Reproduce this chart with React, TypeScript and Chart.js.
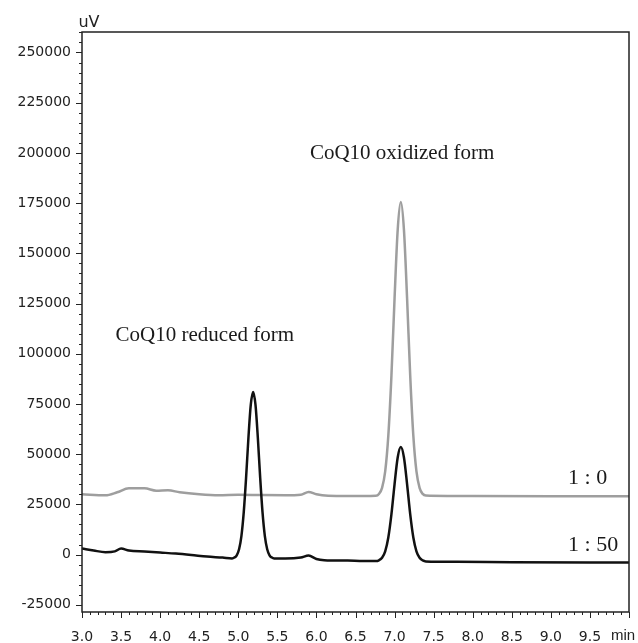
import { useEffect, useRef } from "react";
import { Chart, registerables } from "chart.js";

Chart.register(...registerables);

// Chromatogram 1 : 0 (grey trace)
const TIME_1_0 = [
  3.0, 3.3, 3.45, 3.6, 3.8, 3.95, 4.1, 4.25, 4.5, 4.75, 5.0, 5.3, 5.6, 5.8, 5.9, 6.0, 6.15, 6.4, 6.6, 6.76,
  6.8, 6.84, 6.88, 6.92, 6.96, 7.0, 7.04, 7.08, 7.12, 7.16, 7.2, 7.24, 7.28, 7.32, 7.36, 7.4, 7.7, 8.0, 9.0, 10.0,
];
const SIGNAL_1_0 = [
  30000, 29500, 31000, 33000, 33000, 31800, 32000, 31000, 30000, 29500, 29800, 29600, 29500, 29800, 31200, 30000,
  29300, 29200, 29200, 29300, 30200, 33200, 41400, 59200, 89200, 127700, 161700, 175500, 161700, 127700, 89200,
  59200, 41400, 33200, 30200, 29400, 29200, 29100, 29000, 29000,
];

// Chromatogram 1 : 50 (black trace)
const TIME_1_50 = [
  3.0, 3.15, 3.3, 3.42, 3.5, 3.6, 3.8, 4.0, 4.2, 4.4, 4.6, 4.8, 4.92, 4.95, 4.98, 5.01, 5.04, 5.07, 5.1, 5.13,
  5.16, 5.19, 5.22, 5.25, 5.28, 5.31, 5.34, 5.37, 5.4, 5.43, 5.46, 5.6, 5.8, 5.9, 6.0, 6.1, 6.4, 6.6, 6.76, 6.8,
  6.84, 6.88, 6.92, 6.96, 7.0, 7.04, 7.08, 7.12, 7.16, 7.2, 7.24, 7.28, 7.32, 7.36, 7.4, 7.8, 8.5, 9.5, 10.0,
];
const SIGNAL_1_50 = [
  3000, 2000, 1200, 1600, 3000, 2000, 1500, 1000, 500, -200, -1000, -1500, -1900, -1500, -350, 2650, 9200, 21100,
  38400, 58300, 74600, 81000, 74600, 58300, 38400, 21100, 9200, 2650, -350, -1500, -1900, -2000, -1500, -500,
  -2200, -2800, -3000, -3200, -3200, -2850, -1600, 1600, 8500, 20100, 35100, 48300, 53500, 48300, 35100, 20100,
  8500, 1600, -1600, -2900, -3400, -3600, -3800, -3900, -3900,
];

const X_TICKS = [3.0, 3.5, 4.0, 4.5, 5.0, 5.5, 6.0, 6.5, 7.0, 7.5, 8.0, 8.5, 9.0, 9.5];
const X_UNIT = "min";
const Y_TICKS = [-25000, 0, 25000, 50000, 75000, 100000, 125000, 150000, 175000, 200000, 225000, 250000];
const Y_UNIT = "uV";

const LABEL_TEXTS = ["CoQ10 oxidized form", "CoQ10 reduced form", "1 : 0", "1 : 50"];
const LABEL_X = [5.917, 3.43, 9.22, 9.22];
const LABEL_Y = [197000, 106300, 35100, 1750];

export default function App() {
  const ref = useRef<HTMLCanvasElement | null>(null);

  useEffect(() => {
    if (!ref.current) return;
    const framePlugin = {
      id: "frame",
      afterDraw(chart: any) {
        const { ctx, chartArea, scales } = chart;
        const { left, right, top, bottom } = chartArea;
        const x = scales.x;
        const y = scales.y;
        ctx.save();
        ctx.strokeStyle = "#222";
        ctx.lineWidth = 1.5;
        ctx.strokeRect(left, top, right - left, bottom - top);
        ctx.lineWidth = 1;
        ctx.beginPath();
        for (let v = Math.ceil(y.min / 5000) * 5000; v <= y.max; v += 5000) {
          const py = Math.round(y.getPixelForValue(v)) + 0.5;
          const len = v % 25000 === 0 ? 6 : 3;
          ctx.moveTo(left - len, py);
          ctx.lineTo(left, py);
        }
        for (let i = Math.ceil(x.min * 10 - 1e-6); i <= x.max * 10 + 1e-6; i++) {
          const px = Math.round(x.getPixelForValue(i / 10)) + 0.5;
          const len = i % 5 === 0 ? 6 : 3;
          ctx.moveTo(px, bottom);
          ctx.lineTo(px, bottom + len);
        }
        ctx.stroke();

        ctx.fillStyle = "#222";
        ctx.textBaseline = "alphabetic";
        ctx.textAlign = "center";
        ctx.font = "16px 'DejaVu Sans'";
        ctx.fillText(Y_UNIT, left + 7, 27);
        ctx.textAlign = "left";
        ctx.font = "15px 'Liberation Sans'";
        ctx.fillText(X_UNIT, x.getPixelForValue(10) - 18, 640);

        ctx.fillStyle = "#1a1a1a";
        LABEL_TEXTS.forEach((t, i) => {
          ctx.font = i < 2 ? "21px 'Liberation Serif'" : "22px 'Liberation Serif'";
          ctx.fillText(t, x.getPixelForValue(LABEL_X[i]), y.getPixelForValue(LABEL_Y[i]));
        });
        ctx.restore();
      },
    };

    const chart = new Chart(ref.current, {
      type: "line",
      data: {
        datasets: [
          {
            label: "1 : 50",
            data: TIME_1_50.map((t, i) => ({ x: t, y: SIGNAL_1_50[i] })),
            borderColor: "#111111",
            borderWidth: 2.5,
            pointRadius: 0,
            cubicInterpolationMode: "monotone",
          },
          {
            label: "1 : 0",
            data: TIME_1_0.map((t, i) => ({ x: t, y: SIGNAL_1_0[i] })),
            borderColor: "#9e9e9e",
            borderWidth: 2.5,
            pointRadius: 0,
            cubicInterpolationMode: "monotone",
          },
        ],
      },
      options: {
        responsive: false,
        animation: false,
        layout: { padding: { top: 32, right: 9, left: 0, bottom: 0 } },
        plugins: { legend: { display: false }, tooltip: { enabled: false } },
        scales: {
          x: {
            type: "linear",
            min: 3.0,
            max: 10.0,
            grid: { display: false, drawTicks: false },
            border: { display: false },
            afterBuildTicks: (s: any) => {
              s.ticks = X_TICKS.map((v) => ({ value: v }));
            },
            afterFit: (s: any) => {
              s.height = 31;
            },
            ticks: {
              autoSkip: false,
              maxRotation: 0,
              padding: 17,
              color: "#222",
              font: { family: "'DejaVu Sans'", size: 14 },
              callback: (v: any) => Number(v).toFixed(1),
            },
          },
          y: {
            type: "linear",
            min: -28600,
            max: 260200,
            grid: { display: false, drawTicks: false },
            border: { display: false },
            afterBuildTicks: (s: any) => {
              s.ticks = Y_TICKS.map((v) => ({ value: v }));
            },
            afterFit: (s: any) => {
              s.width = 82;
            },
            ticks: {
              autoSkip: false,
              padding: 11,
              color: "#222",
              font: { family: "'DejaVu Sans'", size: 14 },
              callback: (v: any) => String(v),
            },
          },
        },
      },
      plugins: [framePlugin],
    });
    return () => chart.destroy();
  }, []);

  return (
    <div style={{ position: "absolute", left: 0, top: 0, width: 638, height: 643, background: "#fff" }}>
      <canvas ref={ref} width={638} height={643} />
    </div>
  );
}
